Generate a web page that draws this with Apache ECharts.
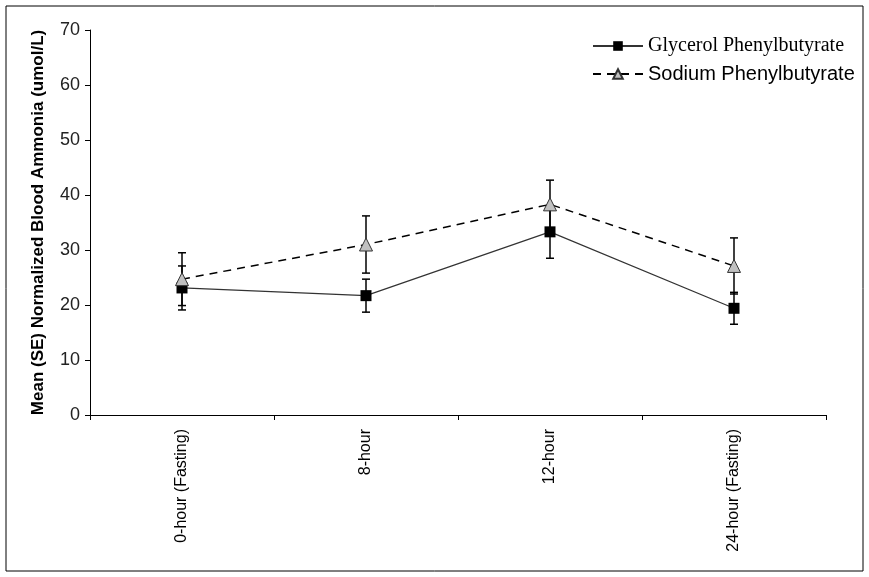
<!DOCTYPE html>
<html>
<head>
<meta charset="utf-8">
<script src="https://cdn.jsdelivr.net/npm/echarts@6/dist/echarts.min.js"></script>
<style>html,body{margin:0;padding:0;background:#fff}#c{width:869px;height:577px}</style>
</head>
<body>
<div id="c"></div>
<script>
const categories = ['0-hour (Fasting)', '8-hour', '12-hour', '24-hour (Fasting)'];
const glycerolMean = [23.1, 21.7, 33.3, 19.4];
const glycerolSE = [4.0, 3.0, 4.8, 2.9];
const sodiumMean = [24.7, 31.0, 38.3, 27.1];
const sodiumSE = [4.8, 5.2, 4.4, 5.1];
const yTicks = [0, 10, 20, 30, 40, 50, 60, 70];

function errData(mean, se) {
  return mean.map((m, i) => [i, m - se[i], m + se[i]]);
}
function errRender(params, api) {
  const x = api.value(0);
  const lo = api.coord([x, api.value(1)]);
  const hi = api.coord([x, api.value(2)]);
  const w = 4;
  const style = { stroke: '#000', lineWidth: 1.5 };
  return {
    type: 'group',
    children: [
      { type: 'line', shape: { x1: lo[0], y1: lo[1], x2: hi[0], y2: hi[1] }, style },
      { type: 'line', shape: { x1: lo[0] - w, y1: lo[1], x2: lo[0] + w, y2: lo[1] }, style },
      { type: 'line', shape: { x1: hi[0] - w, y1: hi[1], x2: hi[0] + w, y2: hi[1] }, style }
    ]
  };
}

const chart = echarts.init(document.getElementById('c'));
chart.setOption({
  animation: false,
  grid: { left: 90, right: 43, top: 30, bottom: 162 },
  graphic: [{
    type: 'rect', shape: { x: 6, y: 6, width: 857, height: 565 },
    style: { fill: 'none', stroke: '#000', lineWidth: 1 }, silent: true, z: -10
  }],
  legend: {
    orient: 'vertical', left: 587, top: 31, itemWidth: 50, itemHeight: 12, itemGap: 8,
    data: [
      { name: 'Glycerol Phenylbutyrate', textStyle: { fontFamily: 'Liberation Serif', fontSize: 20, color: '#000' } },
      { name: 'Sodium Phenylbutyrate', textStyle: { fontFamily: 'Liberation Sans', fontSize: 20, color: '#000' } }
    ]
  },
  xAxis: {
    type: 'category', data: categories, boundaryGap: true,
    axisLine: { lineStyle: { color: '#000', width: 1 } },
    axisTick: { show: true, length: 5, lineStyle: { color: '#000' } },
    axisLabel: { rotate: 90, fontFamily: 'Liberation Sans', fontSize: 16, color: '#000', margin: 14 }
  },
  yAxis: {
    type: 'value', min: 0, max: 70, interval: 10,
    name: 'Mean (SE) Normalized Blood Ammonia (umol/L)',
    nameLocation: 'middle', nameGap: 43,
    nameTextStyle: { fontFamily: 'Liberation Sans', fontWeight: 'bold', fontSize: 17, color: '#000' },
    axisLine: { show: true, lineStyle: { color: '#000', width: 1 } },
    axisTick: { show: true, length: 5, lineStyle: { color: '#000' } },
    axisLabel: { fontFamily: 'Liberation Sans', fontSize: 18, color: '#222', margin: 10,
      formatter: v => yTicks.includes(v) ? String(v) : '' },
    splitLine: { show: false }
  },
  series: [
    {
      type: 'custom', name: 'errG', renderItem: errRender, data: errData(glycerolMean, glycerolSE),
      encode: { x: 0, y: [1, 2] }, z: 1, silent: true
    },
    {
      type: 'custom', name: 'errS', renderItem: errRender, data: errData(sodiumMean, sodiumSE),
      encode: { x: 0, y: [1, 2] }, z: 1, silent: true
    },
    {
      type: 'line', name: 'Glycerol Phenylbutyrate', data: glycerolMean,
      symbol: 'rect', symbolSize: 11,
      itemStyle: { color: '#000' },
      lineStyle: { color: '#333', width: 1.2, type: 'solid' }, z: 3
    },
    {
      type: 'line', name: 'Sodium Phenylbutyrate', data: sodiumMean,
      symbol: 'triangle', symbolSize: 13,
      itemStyle: { color: '#c0c0c0', borderColor: '#333', borderWidth: 1 },
      lineStyle: { color: '#000', width: 1.5, type: [8, 6] }, z: 4
    }
  ]
});
</script>
</body>
</html>
